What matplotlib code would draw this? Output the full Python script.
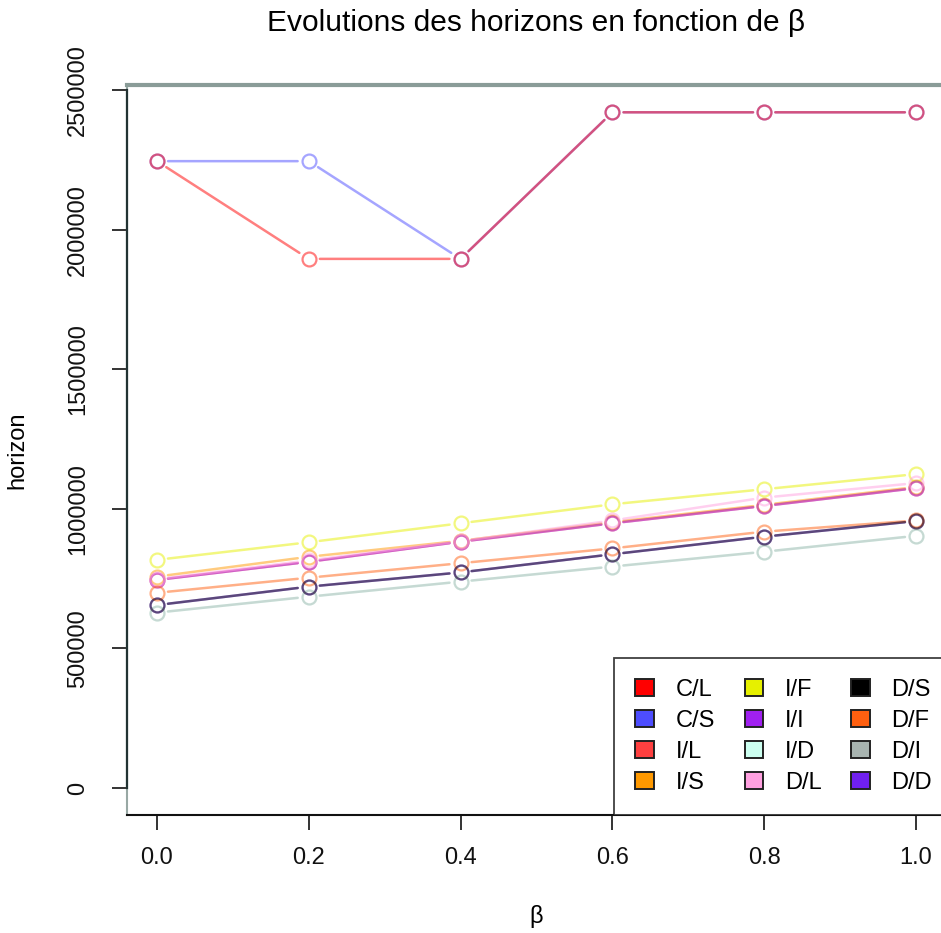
import matplotlib
matplotlib.use("Agg")
import matplotlib.pyplot as plt
from matplotlib.patches import Patch
from matplotlib.lines import Line2D
from matplotlib import font_manager

# Data: horizon as a function of beta for each configuration
beta = [0.0, 0.2, 0.4, 0.6, 0.8, 1.0]
labels = ["C/L", "C/S", "I/L", "I/S", "I/F", "I/I",
          "I/D", "D/L", "D/S", "D/F", "D/I", "D/D"]
colors = ["#FF0000", "#4D4DFF", "#FF4040", "#FF9900", "#E6F000", "#A020F0",
          "#CCFFF0", "#FFA0E0", "#000000", "#FF6010", "#A8B4B0", "#7020F0"]

h_CL = [2245000, 1895000, 1895000, 2420000, 2420000, 2420000]
h_CS = [2245000, 2245000, 1895000, 2420000, 2420000, 2420000]
h_IL = [745000, 810000, 882000, 948000, 1010000, 1074000]
h_IS = [757000, 828000, 885000, 952000, 1014000, 1078000]
h_IF = [817000, 880000, 948000, 1016000, 1070000, 1124000]
h_II = [745000, 810000, 882000, 948000, 1010000, 1074000]
h_ID = [628000, 685000, 739000, 793000, 846000, 903000]
h_DL = [748000, 815000, 884000, 958000, 1040000, 1092000]
h_DS = [655000, 721000, 772000, 837000, 900000, 956000]
h_DF = [699000, 753000, 805000, 858000, 918000, 958000]
h_DI = [628000, 685000, 739000, 793000, 846000, 903000]
h_DD = [655000, 721000, 772000, 837000, 900000, 956000]

series = [h_CL, h_CS, h_IL, h_IS, h_IF, h_II, h_ID, h_DL, h_DS, h_DF, h_DI, h_DD]

# stacking order of the curves (first drawn = bottom)
plot_order = ["C/S", "C/L", "I/L", "I/S", "I/F", "I/I",
              "I/D", "D/L", "D/D", "D/F", "D/I", "D/S"]

xticks = [0.0, 0.2, 0.4, 0.6, 0.8, 1.0]
xticklabels = ["0.0", "0.2", "0.4", "0.6", "0.8", "1.0"]
yticks = [0, 500000, 1000000, 1500000, 2000000, 2500000]
yticklabels = ["0", "500000", "1000000", "1500000", "2000000", "2500000"]

available = {f.name for f in font_manager.fontManager.ttflist}
family = [f for f in ["Liberation Sans Narrow", "Liberation Sans", "DejaVu Sans"] if f in available]
plt.rcParams["font.family"] = family

fig = plt.figure(figsize=(9.41, 9.33), dpi=100)
ax = fig.add_axes([0.1345, 0.1265, 0.8712, 0.7821])

ymax = max(max(s) for s in series)
pad_y = 0.04 * ymax
ax.set_xlim(-0.04, 1.04)
ax.set_ylim(-pad_y, ymax + pad_y)

ALPHA = 0.5
lookup = {l: (s, c) for l, s, c in zip(labels, series, colors)}
for name in plot_order:
    vals, col = lookup[name]
    # line segments with gaps around the points
    for i in range(len(beta) - 1):
        ax.annotate("", xy=(beta[i + 1], vals[i + 1]), xytext=(beta[i], vals[i]),
                    arrowprops=dict(arrowstyle="-", color=col, lw=1.8, alpha=ALPHA,
                                    shrinkA=8, shrinkB=8))
    ax.plot(beta, vals, linestyle="none", marker="o", markersize=10,
            markerfacecolor="none", markeredgecolor=col, markeredgewidth=1.6,
            alpha=ALPHA)

# frame
ax.spines["right"].set_visible(False)
ax.spines["top"].set_color("#8A9C98")
ax.spines["top"].set_linewidth(3)
ax.spines["left"].set_color("#98A8A4")
ax.spines["left"].set_linewidth(1.5)
ax.spines["bottom"].set_color("#111111")
ax.spines["bottom"].set_linewidth(1.5)

# axis line spanning the tick range
ax.add_line(Line2D([0, 0], [yticks[0], yticks[-1]], transform=ax.get_yaxis_transform(),
                   color="#223333", lw=1.6, clip_on=False, zorder=3))

ax.set_xticks(xticks)
ax.set_xticklabels(xticklabels)
ax.set_yticks(yticks)
ax.set_yticklabels(yticklabels, rotation=90, va="center")
ax.tick_params(axis="both", direction="out", length=11, width=1.2, labelsize=17,
               colors="#111111")
ax.tick_params(axis="x", pad=12)
ax.tick_params(axis="y", pad=16)

ax.set_xlabel("β", fontsize=17, labelpad=26)
ax.set_ylabel("horizon", fontsize=17, labelpad=28)
fig.text(0.57, 0.975, "Evolutions des horizons en fonction de β", ha="center",
         va="center", fontsize=21.5)

handles = [Patch(facecolor=c, edgecolor="#222222", linewidth=1.4, label=l)
           for l, c in zip(labels, colors)]
leg = ax.legend(handles=handles, ncol=3, loc="lower right", bbox_to_anchor=(1.008, 0.0),
                borderaxespad=0, fontsize=17, frameon=True, fancybox=False,
                edgecolor="#111111", handlelength=0.8, handleheight=0.7,
                handletextpad=0.9, columnspacing=1.25, labelspacing=0.38,
                borderpad=0.9)
leg.get_frame().set_linewidth(1.3)

fig.savefig("out.png", dpi=100)
